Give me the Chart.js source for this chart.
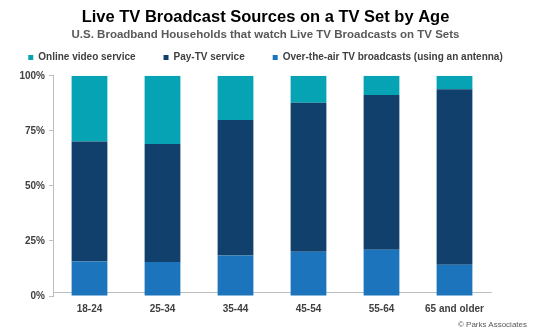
<!DOCTYPE html>
<html>
<head>
<meta charset="utf-8">
<script src="https://cdn.jsdelivr.net/npm/chart.js@4"></script>
<style>
  html, body { margin: 0; padding: 0; background: #fff; }
  #wrap { position: relative; width: 535px; height: 333px; }
  #credit { position: absolute; right: 8px; bottom: 4px; font: 8px "Liberation Sans", Arial, sans-serif; color: #595959; }
</style>
</head>
<body>
<div id="wrap">
  <canvas id="chart" width="535" height="333"></canvas>
  <div id="credit">© Parks Associates</div>
</div>
<script>
const ageGroups = ['18-24', '25-34', '35-44', '45-54', '55-64', '65 and older'];
const overTheAir = [15.7, 15.4, 18.4, 20.1, 21.0, 14.2];
const payTv = [54.5, 53.6, 61.5, 67.7, 70.3, 79.7];
const onlineVideo = [29.8, 31.0, 20.1, 12.2, 8.7, 6.1];
const yTicks = [0, 25, 50, 75, 100];

const font = '"Liberation Sans", Arial, sans-serif';

new Chart(document.getElementById('chart').getContext('2d'), {
    type: 'bar',
    data: {
        labels: ageGroups,
        datasets: [
            { label: 'Over-the-air TV broadcasts (using an antenna)', data: overTheAir, backgroundColor: '#1C75BC' },
            { label: 'Pay-TV service', data: payTv, backgroundColor: '#10406B' },
            { label: 'Online video service', data: onlineVideo, backgroundColor: '#05A3B3' }
        ]
    },
    options: {
        responsive: false,
        animation: false,
        layout: { padding: { left: 0, right: 4, top: 0, bottom: 13 } },
        datasets: { bar: { categoryPercentage: 1, barPercentage: 0.49 } },
        plugins: {
            title: {
                display: true,
                text: 'Live TV Broadcast Sources on a TV Set by Age',
                color: '#000',
                font: { family: font, size: 16.5, weight: 'bold' },
                padding: { top: 8, bottom: 0 }
            },
            subtitle: {
                display: true,
                text: 'U.S. Broadband Households that watch Live TV Broadcasts on TV Sets',
                color: '#595959',
                font: { family: font, size: 11.5, weight: 'bold' },
                padding: { top: 0, bottom: -17 }
            },
            legend: {
                position: 'top',
                reverse: true,
                labels: {
                    boxWidth: 5,
                    boxHeight: 5,
                    padding: 28,
                    color: '#404040',
                    font: { family: font, size: 10, weight: 'bold' }
                }
            },
            tooltip: { enabled: false }
        },
        scales: {
            x: {
                stacked: true,
                grid: { display: false },
                border: { color: '#BFBFBF' },
                ticks: { color: '#404040', font: { family: font, size: 10, weight: 'bold' }, padding: 2 }
            },
            y: {
                stacked: true,
                min: 0,
                max: 100,
                afterFit: axis => { axis.width = 53; },
                afterBuildTicks: axis => { axis.ticks = yTicks.map(v => ({ value: v })); },
                grid: { drawOnChartArea: false, drawTicks: true, tickLength: 4, color: '#BFBFBF' },
                border: { color: '#BFBFBF' },
                ticks: {
                    color: '#404040',
                    font: { family: font, size: 10, weight: 'bold' },
                    padding: 4,
                    callback: value => value + '%'
                }
            },
            // empty right-hand axis, only keeps the plot off the right edge
            spacer: {
                type: 'linear',
                position: 'right',
                afterFit: axis => { axis.width = 40; },
                grid: { display: false },
                border: { display: false },
                ticks: { display: false }
            }
        }
    }
});
</script>
</body>
</html>
